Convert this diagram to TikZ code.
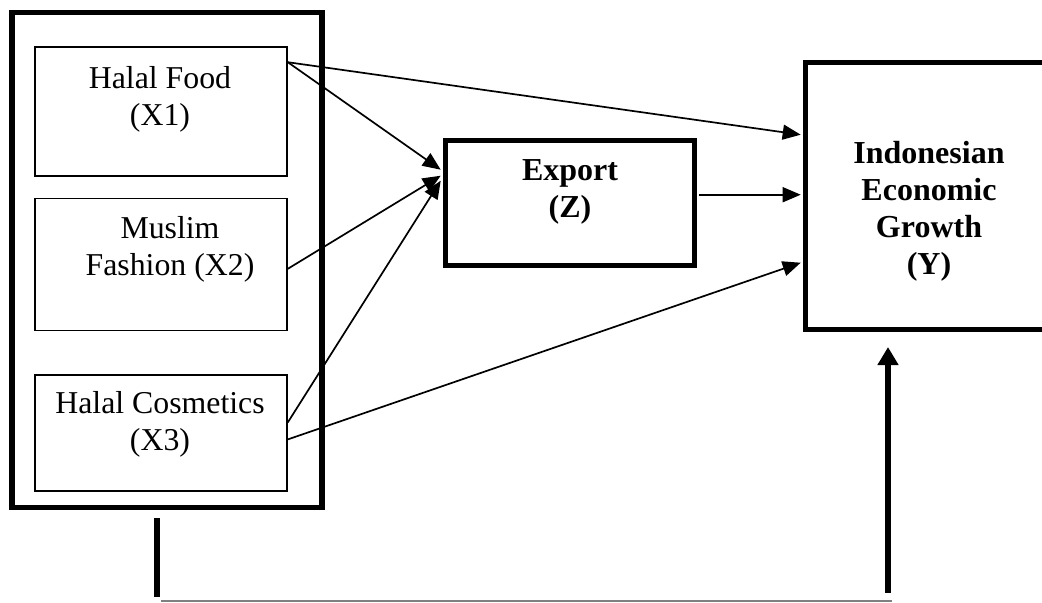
\documentclass[tikz,border=0pt]{standalone}
\usepackage{fontspec}
\setmainfont{Liberation Serif}
\usetikzlibrary{positioning,calc,arrows.meta}

\begin{document}
\begin{tikzpicture}[x=0.5pt, y=-0.5pt, every node/.style={align=center}, font=\fontsize{15.9}{18.5}\selectfont,
  varbox/.style={draw, rectangle, line width=0.8pt, minimum width=126pt, inner sep=0pt},
  bigbox/.style={draw, rectangle, line width=2.8pt, inner sep=0pt},
  boldlbl/.style={font=\fontsize{16}{18.5}\selectfont\bfseries},
  arr/.style={-{Triangle[length=9pt,width=7.5pt]}, line width=0.85pt}]

\path[use as bounding box, clip] (0,0) rectangle (1042,602);

% Nodes
\node (outer) at (167,260) [bigbox, minimum width=155pt, minimum height=247.5pt] {};
\node (food) at (161,111.5) [varbox, minimum height=64.5pt] {};
\node (fashion) [below=10.5pt of food, varbox, minimum height=66pt] {};
\node (cosmetics) [below=21.5pt of fashion, varbox, minimum height=58pt] {};
\node (export) at (570,203) [bigbox, minimum width=124.5pt, minimum height=62.5pt] {};
\node (growth) at (932.75,196) [bigbox, minimum width=127.25pt, minimum height=133.5pt] {};

% Labels
\node (foodlbl) at (160,99.5) {Halal Food\\(X1)};
\node (fashionlbl) at (170,249.5) {Muslim\\Fashion (X2)};
\node (cosmeticslbl) at (160,424.5) {Halal Cosmetics\\(X3)};
\node (exportlbl) at (570,192) [boldlbl] {Export\\(Z)};
\node (growthlbl) at (929,211.5) [boldlbl] {Indonesian\\Economic\\Growth\\(Y)};

% Bottom link
\coordinate (dropTop) at (157,518);
\coordinate (dropBot) at (157,597);
\coordinate (baseL) at (161,601);
\coordinate (baseR) at (892,601);
\coordinate (riseBot) at (888,593);
\coordinate (riseTop) at (888,347);

% Arrows
\draw[arr] ($(food.north east)+(0,16)$) -- ($(growth.north west)+(-2,75)$);
\draw[arr] ($(food.north east)+(0,16)$) -- ($(export.north west)+(-2,32)$);
\draw[arr] ($(fashion.north east)+(0,71)$) -- ($(export.north west)+(-2,38)$);
\draw[arr] ($(cosmetics.north east)+(0,48)$) -- ($(export.north west)+(-2,43)$);
\draw[arr] ($(export.north east)+(2,57)$) -- ($(growth.north west)+(-2,135)$);
\draw[arr] ($(cosmetics.north east)+(0,65)$) -- ($(growth.north west)+(-2,203)$);

\draw[line width=2.8pt] (dropTop) -- (dropBot);
\draw[gray, line width=0.75pt] (baseL) -- (baseR);
\draw[line width=2.8pt, -{Triangle[length=9pt,width=10pt]}] (riseBot) -- (riseTop);

\end{tikzpicture}
\end{document}
